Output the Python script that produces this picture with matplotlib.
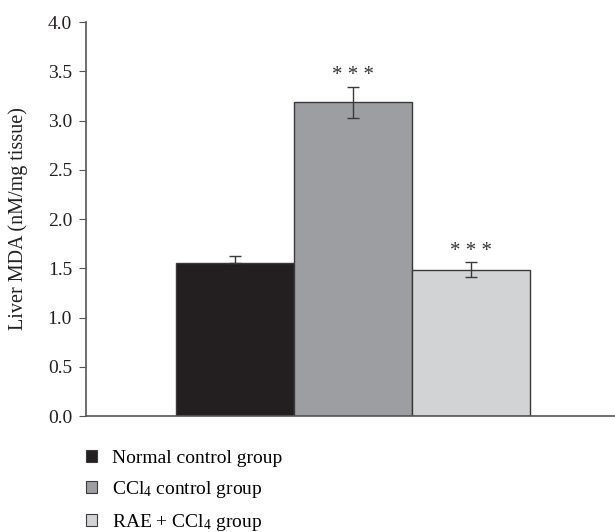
import matplotlib
matplotlib.use("Agg")
import matplotlib.pyplot as plt
from matplotlib.patches import Patch

plt.rcParams['font.family'] = ['Liberation Serif', 'DejaVu Serif']
plt.rcParams['mathtext.fontset'] = 'custom'
plt.rcParams['mathtext.rm'] = 'Liberation Serif'
plt.rcParams['mathtext.it'] = 'Liberation Serif:italic'

groups = ['Normal control group', r'CCl$_4$ control group', r'RAE + CCl$_4$ group']
values = [1.555, 3.185, 1.485]
errors = [0.07, 0.16, 0.075]
lower_err = [0.0, 0.16, 0.075]
stars = ['', '* * *', '* * *']
colors = ['#231f20', '#9d9ea1', '#d2d3d5']
ticks = [0.0, 0.5, 1.0, 1.5, 2.0, 2.5, 3.0, 3.5, 4.0]

fig = plt.figure(figsize=(6.15, 5.32), dpi=100)
ax = fig.add_axes([0.1398, 0.218, 0.8602, 0.7406])
x = list(range(len(values)))
ax.bar(x, values, width=1.0, color=colors, edgecolor='#3a3a3a', linewidth=1.0, zorder=2)
ax.errorbar(x, values, yerr=[lower_err, errors], fmt='none', ecolor='#3a3a3a',
            elinewidth=1.0, capsize=4, capthick=1.0, zorder=3)
for xi, v, e, s in zip(x, values, errors, stars):
    if s:
        ax.text(xi, v + e + 0.11, s, ha='center', va='center', fontsize=15, color='#333333')

ax.set_xlim(-1.26, 3.22)
ax.set_ylim(0, 4.0)
ax.set_yticks(ticks)
ax.set_yticklabels([f'{t:.1f}' for t in ticks], fontsize=14, color='#231f20')
ax.set_xticks([])
for sp in ['top', 'right']:
    ax.spines[sp].set_visible(False)
for sp in ['left', 'bottom']:
    ax.spines[sp].set_color('#555555')
    ax.spines[sp].set_linewidth(1.2)
ax.tick_params(axis='y', direction='out', length=5, color='#555555', pad=5)
ax.set_ylabel('Liver MDA (nM/mg tissue)', fontsize=14.5, color='#231f20', labelpad=14)

handles = [Patch(facecolor=c, edgecolor='#3a3a3a', linewidth=0.8) for c in colors]
fig.legend(handles, groups, loc='upper left', bbox_to_anchor=(0.14, 0.154),
           frameon=False, fontsize=14, handlelength=0.57, handleheight=0.57,
           labelspacing=0.62, handletextpad=0.77, borderaxespad=0, borderpad=0)

fig.savefig('out.png', dpi=100)
